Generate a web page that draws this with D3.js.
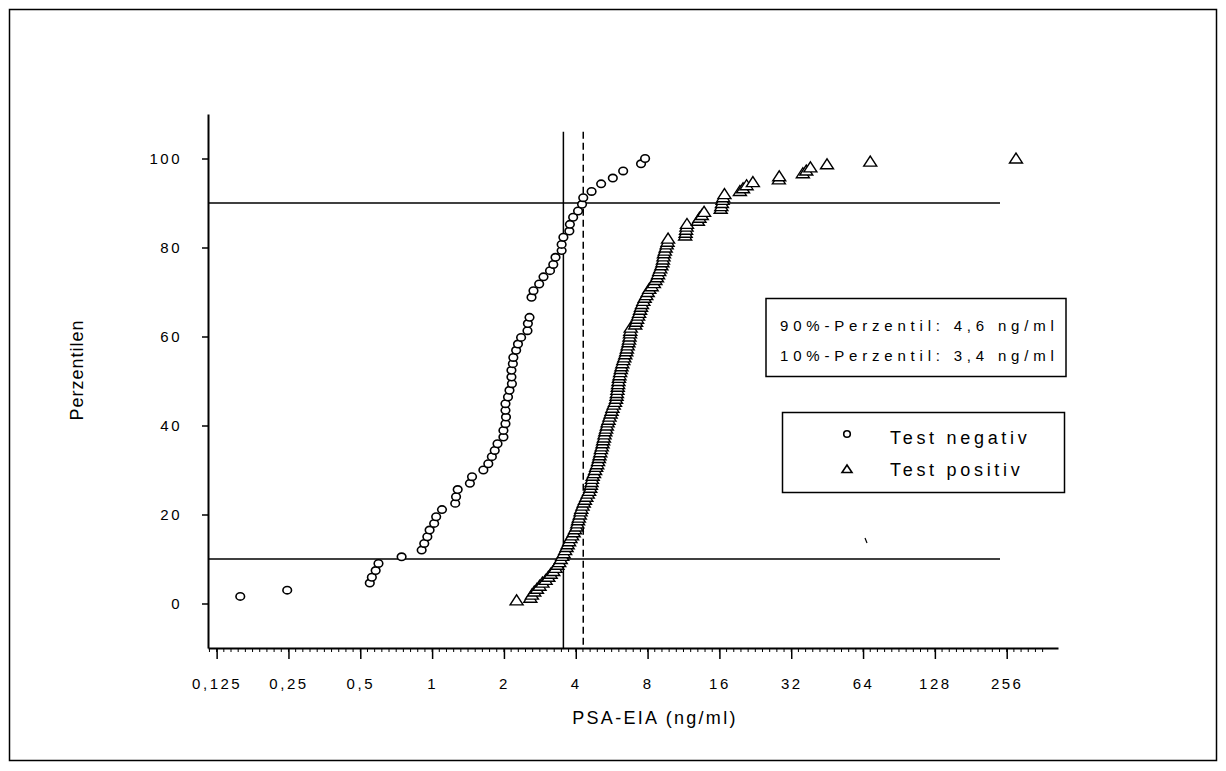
<!DOCTYPE html>
<html>
<head>
<meta charset="utf-8">
<script src="https://cdn.jsdelivr.net/npm/d3@7"></script>
<style>
  body { margin: 0; background: #fff; }
  svg text { font-family: "Liberation Sans", Arial, sans-serif; fill: #000; }
</style>
</head>
<body>
<svg id="chart" width="1226" height="771"></svg>
<script>
// Test negativ (circles): PSA value and percentile
const negX = [0.157, 0.247, 0.548, 0.559, 0.58, 0.596, 0.745, 0.904, 0.927, 0.955,
  0.976, 1.02, 1.04, 1.10, 1.25, 1.26, 1.28, 1.44, 1.47, 1.64,
  1.72, 1.78, 1.83, 1.88, 1.99, 1.99, 2.03, 2.04, 2.03, 2.03,
  2.08, 2.11, 2.16, 2.15, 2.15, 2.18, 2.19, 2.25, 2.29, 2.36,
  2.51, 2.52, 2.56, 2.61, 2.66, 2.81, 2.93, 3.12, 3.22, 3.29,
  3.49, 3.49, 3.55, 3.76, 3.78, 3.90, 4.09, 4.25, 4.30, 4.66,
  5.11, 5.72, 6.32, 7.51, 7.81];
const negY = [1.6, 3.0, 4.6, 5.9, 7.4, 9.0, 10.5, 12.0, 13.5, 15.0,
  16.5, 18.0, 19.5, 21.1, 22.5, 24.0, 25.6, 27.0, 28.5, 30.0,
  31.4, 33.0, 34.4, 35.9, 37.4, 38.9, 40.4, 41.9, 43.4, 44.9,
  46.4, 47.9, 49.4, 50.9, 52.4, 53.9, 55.3, 56.9, 58.3, 59.8,
  61.3, 62.9, 64.3, 68.8, 70.3, 71.8, 73.4, 74.8, 76.2, 77.8,
  79.3, 80.7, 82.3, 83.7, 85.2, 86.8, 88.2, 89.7, 91.2, 92.6,
  94.3, 95.6, 97.2, 98.8, 100.0];

// Test positiv (triangles)
const posX = [2.26, 2.58, 2.62, 2.68, 2.75, 2.82, 2.90, 2.99, 3.07, 3.14,
  3.22, 3.29, 3.35, 3.41, 3.46, 3.51, 3.56, 3.61, 3.66, 3.70,
  3.75, 3.80, 3.86, 3.92, 3.97, 4.03, 4.06, 4.09, 4.12, 4.16,
  4.19, 4.22, 4.27, 4.32, 4.37, 4.43, 4.49, 4.55, 4.60, 4.63,
  4.66, 4.68, 4.71, 4.77, 4.82, 4.87, 4.92, 4.96, 5.00, 5.03,
  5.07, 5.10, 5.14, 5.18, 5.21, 5.25, 5.28, 5.32, 5.36, 5.40,
  5.44, 5.49, 5.54, 5.60, 5.65, 5.70, 5.77, 5.84, 5.90, 5.93,
  5.95, 5.98, 6.00, 6.02, 6.04, 6.07, 6.10, 6.14, 6.18, 6.22,
  6.27, 6.33, 6.39, 6.45, 6.51, 6.55, 6.60, 6.65, 6.69, 6.72,
  6.75, 6.77, 6.80, 7.10, 7.16, 7.23, 7.30, 7.37, 7.44, 7.51,
  7.58, 7.68, 7.78, 7.90, 8.01, 8.13, 8.32, 8.50, 8.63, 8.76,
  8.85, 8.95, 9.04, 9.14, 9.23, 9.28, 9.33, 9.37, 9.45, 9.53,
  9.62, 9.70, 9.75, 11.5, 11.55, 11.6, 11.65, 11.7, 13.0, 13.2,
  13.5, 13.8, 16.2, 16.3, 16.4, 16.5, 16.6, 16.8, 19.5, 20.1,
  20.8, 22.1, 28.4, 28.5, 35.8, 37.0, 38.5, 45.2, 68.6, 280];
const posY = [0.7, 1.3, 2.0, 2.7, 3.3, 4.0, 4.7, 5.3, 6.0, 6.7,
  7.3, 8.0, 8.7, 9.3, 10.0, 10.7, 11.3, 12.0, 12.7, 13.3,
  14.0, 14.7, 15.3, 16.0, 16.7, 17.3, 18.0, 18.7, 19.3, 20.0,
  20.7, 21.3, 22.0, 22.7, 23.3, 24.0, 24.7, 25.3, 26.0, 26.7,
  27.3, 28.0, 28.7, 29.3, 30.0, 30.7, 31.3, 32.0, 32.7, 33.3,
  34.0, 34.7, 35.3, 36.0, 36.7, 37.3, 38.0, 38.7, 39.3, 40.0,
  40.7, 41.3, 42.0, 42.7, 43.3, 44.0, 44.7, 45.3, 46.0, 46.7,
  47.3, 48.0, 48.7, 49.3, 50.0, 50.7, 51.3, 52.0, 52.7, 53.3,
  54.0, 54.7, 55.3, 56.0, 56.7, 57.3, 58.0, 58.7, 59.3, 60.0,
  60.7, 61.3, 62.0, 62.7, 63.3, 64.0, 64.7, 65.3, 66.0, 66.7,
  67.3, 68.0, 68.7, 69.3, 70.0, 70.7, 71.3, 72.0, 72.7, 73.3,
  74.0, 74.7, 75.3, 76.0, 76.7, 77.3, 78.0, 78.7, 79.3, 80.0,
  80.7, 81.3, 82.0, 82.7, 83.3, 84.0, 84.7, 85.3, 86.0, 86.7,
  87.3, 88.0, 88.7, 89.3, 90.0, 90.7, 91.3, 92.0, 92.7, 93.3,
  94.0, 94.7, 95.3, 96.0, 96.7, 97.3, 98.0, 98.7, 99.3, 100.0];

// axis ticks and labels
const xTicks = [0.125, 0.25, 0.5, 1, 2, 4, 8, 16, 32, 64, 128, 256];
const yTicks = [0, 20, 40, 60, 80, 100];
const percentileText = ['90%-Perzentil: 4,6 ng/ml', '10%-Perzentil: 3,4 ng/ml'];
const legendText = ['Test negativ', 'Test positiv'];
// reference lines
const hLines = [90, 10];
const hLineEnd = 240;
const vSolid = 3.55, vDashed = 4.3, vTop = 106;

const svg = d3.select('#chart');

// outer frame
svg.append('rect')
  .attr('x', 9.5).attr('y', 9.5)
  .attr('width', 1207).attr('height', 751)
  .attr('fill', 'none').attr('stroke', '#000').attr('stroke-width', 1.5);

const x = d3.scaleLog().base(2).domain([0.115, 420]).range([208, 1058]);
const y = d3.scaleLinear().domain([-10, 110]).range([648, 114]);

// axes
const xAxis = d3.axisBottom(x)
  .tickValues(xTicks)
  .tickSize(11)
  .tickSizeOuter(0)
  .tickFormat(d => String(d).replace('.', ','));
const gx = svg.append('g').attr('transform', 'translate(0,648)').call(xAxis);
gx.select('.domain').attr('stroke-width', 2);
gx.selectAll('.tick line').attr('stroke-width', 1.5);
gx.selectAll('.tick text')
  .attr('dy', 0).attr('y', 41)
  .style('font-size', '15px').style('letter-spacing', '2.5px');

// minor ticks along the x axis
const minor = d3.range(-1, 11.6, 0.1).map(e => 0.125 * Math.pow(2, e))
  .filter(v => x(v) > 209 && x(v) < 1057);
svg.append('g').selectAll('line').data(minor).enter().append('line')
  .attr('x1', d => x(d)).attr('x2', d => x(d))
  .attr('y1', 649).attr('y2', 652)
  .attr('stroke', '#000').attr('stroke-width', 1);

const yAxis = d3.axisLeft(y)
  .tickValues(yTicks)
  .tickSize(6)
  .tickSizeOuter(0);
const gy = svg.append('g').attr('transform', 'translate(208,0)').call(yAxis);
gy.select('.domain').attr('stroke-width', 2);
gy.selectAll('.tick line').attr('stroke-width', 1.5);
gy.selectAll('.tick text')
  .attr('x', -26)
  .style('font-size', '15px').style('letter-spacing', '2.5px');

// axis titles
svg.append('text')
  .attr('x', 655).attr('y', 724)
  .attr('text-anchor', 'middle')
  .style('font-size', '18px').style('letter-spacing', '2.3px')
  .text('PSA-EIA (ng/ml)');
svg.append('text')
  .attr('transform', 'translate(83,370) rotate(-90)')
  .attr('text-anchor', 'middle')
  .style('font-size', '18px').style('letter-spacing', '1px')
  .text('Perzentilen');

// reference lines
svg.append('g').selectAll('line').data(hLines).enter().append('line')
  .attr('x1', x(0.115)).attr('x2', x(hLineEnd))
  .attr('y1', d => y(d)).attr('y2', d => y(d))
  .attr('stroke', '#000').attr('stroke-width', 1.5);
svg.append('line')
  .attr('x1', x(vSolid)).attr('x2', x(vSolid))
  .attr('y1', y(vTop)).attr('y2', 648)
  .attr('stroke', '#000').attr('stroke-width', 1.5);
svg.append('line')
  .attr('x1', x(vDashed)).attr('x2', x(vDashed))
  .attr('y1', y(vTop)).attr('y2', 648)
  .attr('stroke', '#000').attr('stroke-width', 1.5)
  .attr('stroke-dasharray', '7,4');

// data points
const neg = negX.map((v, i) => ({ x: v, y: negY[i] }));
const pos = posX.map((v, i) => ({ x: v, y: posY[i] }));
const triPath = 'M-6.5,4.5L6.5,4.5L0,-5.5Z';

svg.append('g').selectAll('ellipse').data(neg).enter().append('ellipse')
  .attr('cx', d => x(d.x)).attr('cy', d => y(d.y))
  .attr('rx', 4.3).attr('ry', 3.7)
  .attr('fill', '#fff').attr('stroke', '#000').attr('stroke-width', 1.6);

svg.append('g').selectAll('path').data(pos).enter().append('path')
  .attr('transform', d => `translate(${x(d.x)},${y(d.y)})`)
  .attr('d', triPath)
  .attr('fill', '#fff').attr('stroke', '#000').attr('stroke-width', 1.4);

// percentile box
svg.append('rect')
  .attr('x', 766).attr('y', 298.5).attr('width', 300).attr('height', 78)
  .attr('fill', '#fff').attr('stroke', '#000').attr('stroke-width', 1.5);
svg.append('g').selectAll('text').data(percentileText).enter().append('text')
  .attr('x', 780).attr('y', (d, i) => 331 + i * 30)
  .style('font-size', '15px').style('letter-spacing', '4.8px')
  .text(d => d);

// legend box
svg.append('rect')
  .attr('x', 782.5).attr('y', 412.5).attr('width', 282).attr('height', 80)
  .attr('fill', '#fff').attr('stroke', '#000').attr('stroke-width', 1.5);
svg.append('circle')
  .attr('cx', 847).attr('cy', 434).attr('r', 3.3)
  .attr('fill', '#fff').attr('stroke', '#000').attr('stroke-width', 1.6);
svg.append('path')
  .attr('transform', 'translate(847,469)')
  .attr('d', 'M-5,3.5L5,3.5L0,-4Z')
  .attr('fill', '#fff').attr('stroke', '#000').attr('stroke-width', 1.6);
svg.append('g').selectAll('text').data(legendText).enter().append('text')
  .attr('x', 890).attr('y', (d, i) => 444 + i * 32)
  .style('font-size', '18px').style('letter-spacing', '3.7px')
  .text(d => d);

// small stray mark inside the plot
svg.append('path')
  .attr('d', 'M865,538L867,543')
  .attr('stroke', '#000').attr('stroke-width', 1.2);
</script>
</body>
</html>
